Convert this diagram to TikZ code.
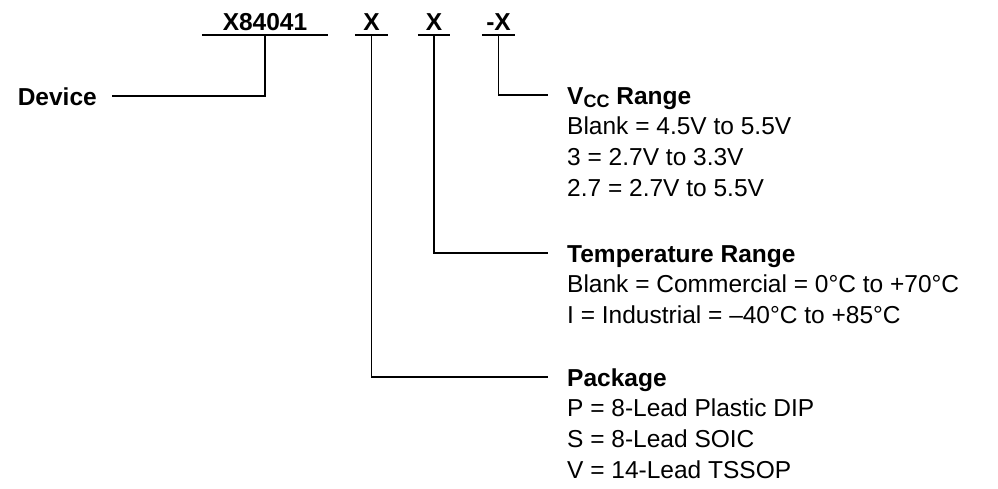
\documentclass[tikz,border=0pt]{standalone}
\usepackage{fontspec}
\setmainfont{Liberation Sans}
\usetikzlibrary{positioning}

\begin{document}
\begin{tikzpicture}[
    x=1pt, y=-1pt,
    code/.style={font=\fontsize{24.5}{31}\selectfont\bfseries, inner sep=0pt, text height=18pt, text depth=4pt, anchor=south},
    head/.style={font=\fontsize{24.5}{31}\selectfont\bfseries, inner xsep=19pt, inner ysep=0pt, text height=18pt, text depth=0pt, anchor=west},
    vals/.style={font=\fontsize{24.5}{31}\selectfont, inner xsep=19pt, inner ysep=0pt, align=left},
    lead/.style={line width=1.2pt}
]
\useasboundingbox (0,0) rectangle (998,488);

% part number fields
\node[code, minimum width=126pt] (partno) at (265,35) {X84041};
\node[code, minimum width=33pt] (pkgcode) at (371.5,35) {X};
\node[code, minimum width=32pt] (tempcode) at (434,35) {X};
\node[code, minimum width=33pt] (vcccode) at (498.5,35) {-X};
\foreach \f in {partno, pkgcode, tempcode, vcccode}
    \draw[lead] (\f.south west) -- (\f.south east);

% headings
\node[head, anchor=east, inner xsep=15pt] (device) at (112,96) {Device};
\node[head] (vcc) at (548,95) {V\raisebox{-0.3ex}{\fontsize{18}{18}\selectfont CC} Range};
\node[head] (temp) at (548,253) {Temperature Range};
\node[head] (pkg) at (548,377) {Package};

% option lists
\node[vals, below right=12.7pt and 0pt of vcc.south west] (vccvals) {Blank = 4.5V to 5.5V\\3 = 2.7V to 3.3V\\2.7 = 2.7V to 5.5V};
\node[vals, below right=12.7pt and 0pt of temp.south west] (tempvals) {Blank = Commercial = 0°C to +70°C\\I = Industrial = –40°C to +85°C};
\node[vals, below right=12.7pt and 0pt of pkg.south west] (pkgvals) {P = 8-Lead Plastic DIP\\S = 8-Lead SOIC\\V = 14-Lead TSSOP};

% leaders
\draw[lead] (partno.south) |- (device.east);
\draw[lead] (vcccode.south) |- (vcc.west);
\draw[lead] (tempcode.south) |- (temp.west);
\draw[lead] (pkgcode.south) |- (pkg.west);
\end{tikzpicture}
\end{document}
